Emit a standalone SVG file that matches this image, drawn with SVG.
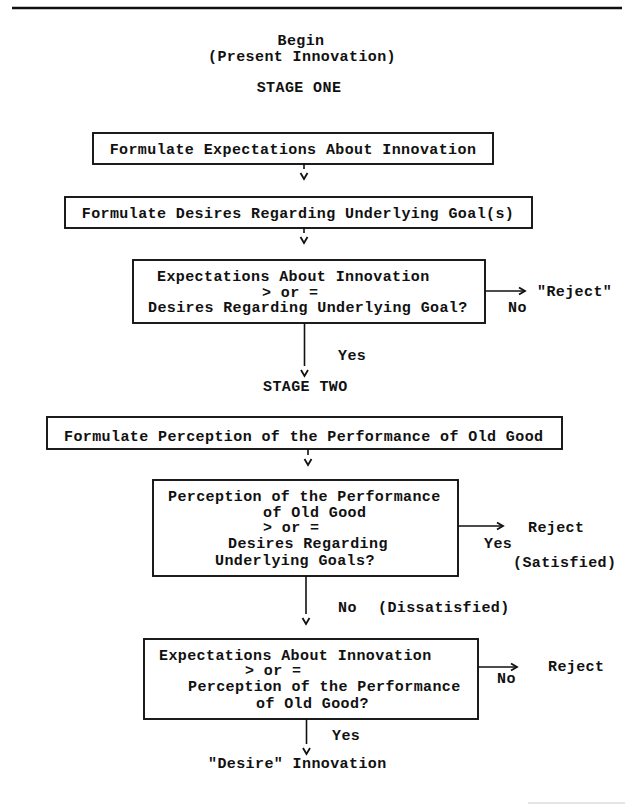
<svg xmlns="http://www.w3.org/2000/svg" width="625" height="809" viewBox="0 0 625 809">
  <style>
    text { font-family: "Liberation Mono", "Courier New", monospace; font-weight: bold; font-size: 15px; letter-spacing: 0.4px; fill: #111; }
    .box { fill: #fff; stroke: #111; stroke-width: 1.9; }
    .conn { fill: none; stroke: #111; stroke-width: 1.6; }
    .mid { text-anchor: middle; }
  </style>
  <defs>
    <marker id="vgap" markerUnits="userSpaceOnUse" markerWidth="20" markerHeight="20" refX="-4" refY="3.5" orient="auto" overflow="visible">
      <path d="M0,0 L6,3.5 L0,7" fill="none" stroke="#111" stroke-width="1.8"/>
    </marker>
    <marker id="tip" markerUnits="userSpaceOnUse" markerWidth="20" markerHeight="20" refX="6" refY="3.5" orient="auto" overflow="visible">
      <path d="M0,0 L6,3.5 L0,7" fill="none" stroke="#111" stroke-width="1.8"/>
    </marker>
  </defs>
  <rect width="625" height="809" fill="#fff"/>
  <line x1="12" y1="8" x2="622" y2="8" stroke="#111" stroke-width="2.6"/>
  <line x1="528" y1="803" x2="625" y2="803" stroke="#ddd" stroke-width="1.5"/>

  <g id="begin">
    <text x="301" y="45" class="mid">Begin</text>
    <text x="302" y="61" class="mid">(Present Innovation)</text>
  </g>
  <g id="stage-one">
    <text x="299" y="92" class="mid">STAGE ONE</text>
  </g>

  <g id="box1">
    <rect class="box" x="93" y="133" width="400" height="31"/>
    <text x="293" y="154" class="mid">Formulate Expectations About Innovation</text>
  </g>
  <g id="box2">
    <rect class="box" x="65" y="197" width="467" height="31"/>
    <text x="298" y="218" class="mid">Formulate Desires Regarding Underlying Goal(s)</text>
  </g>
  <g id="box3">
    <rect class="box" x="133" y="260" width="352" height="63"/>
    <text x="157" y="281">Expectations About Innovation</text>
    <text x="262" y="296.5">&gt; or =</text>
    <text x="148" y="312">Desires Regarding Underlying Goal?</text>
  </g>
  <g id="reject1">
    <text x="537" y="296">"Reject"</text>
  </g>
  <g id="stage-two">
    <text x="263" y="391">STAGE TWO</text>
  </g>
  <g id="box4">
    <rect class="box" x="47" y="417" width="515" height="32"/>
    <text x="64" y="441">Formulate Perception of the Performance of Old Good</text>
  </g>
  <g id="box5">
    <rect class="box" x="153" y="480" width="305" height="96"/>
    <text x="168" y="501">Perception of the Performance</text>
    <text x="263" y="516.5">of Old Good</text>
    <text x="263" y="532">&gt; or =</text>
    <text x="228" y="548">Desires Regarding</text>
    <text x="215" y="564.5">Underlying Goals?</text>
  </g>
  <g id="reject2">
    <text x="528" y="532">Reject</text>
    <text x="513" y="567">(Satisfied)</text>
  </g>
  <g id="box6">
    <rect class="box" x="144" y="639" width="334" height="80"/>
    <text x="159" y="659.5">Expectations About Innovation</text>
    <text x="245" y="675">&gt; or =</text>
    <text x="188" y="691">Perception of the Performance</text>
    <text x="256" y="707.5">of Old Good?</text>
  </g>
  <g id="reject3">
    <text x="548" y="671">Reject</text>
  </g>
  <g id="desire-innovation">
    <text x="208" y="768">"Desire" Innovation</text>
  </g>

  <g id="connectors">
    <line class="conn" x1="304" y1="164" x2="304" y2="169" marker-end="url(#vgap)"/>
    <line class="conn" x1="304" y1="228" x2="304" y2="233" marker-end="url(#vgap)"/>
    <line class="conn" x1="304.5" y1="323" x2="304.5" y2="366" marker-end="url(#vgap)"/>
    <line class="conn" x1="485" y1="291" x2="525" y2="291" marker-end="url(#tip)"/>
    <line class="conn" x1="308" y1="449" x2="308" y2="455" marker-end="url(#vgap)"/>
    <line class="conn" x1="458" y1="526" x2="503" y2="526" marker-end="url(#tip)"/>
    <line class="conn" x1="306" y1="576" x2="306" y2="614" marker-end="url(#vgap)"/>
    <line class="conn" x1="478" y1="667" x2="517" y2="667" marker-end="url(#tip)"/>
    <line class="conn" x1="306.5" y1="719" x2="306.5" y2="744" marker-end="url(#vgap)"/>
    <text x="338" y="360">Yes</text>
    <text x="508" y="312">No</text>
    <text x="484" y="548">Yes</text>
    <text x="338" y="612">No</text>
    <text x="378" y="612">(Dissatisfied)</text>
    <text x="497" y="683">No</text>
    <text x="332" y="740">Yes</text>
  </g>
</svg>
